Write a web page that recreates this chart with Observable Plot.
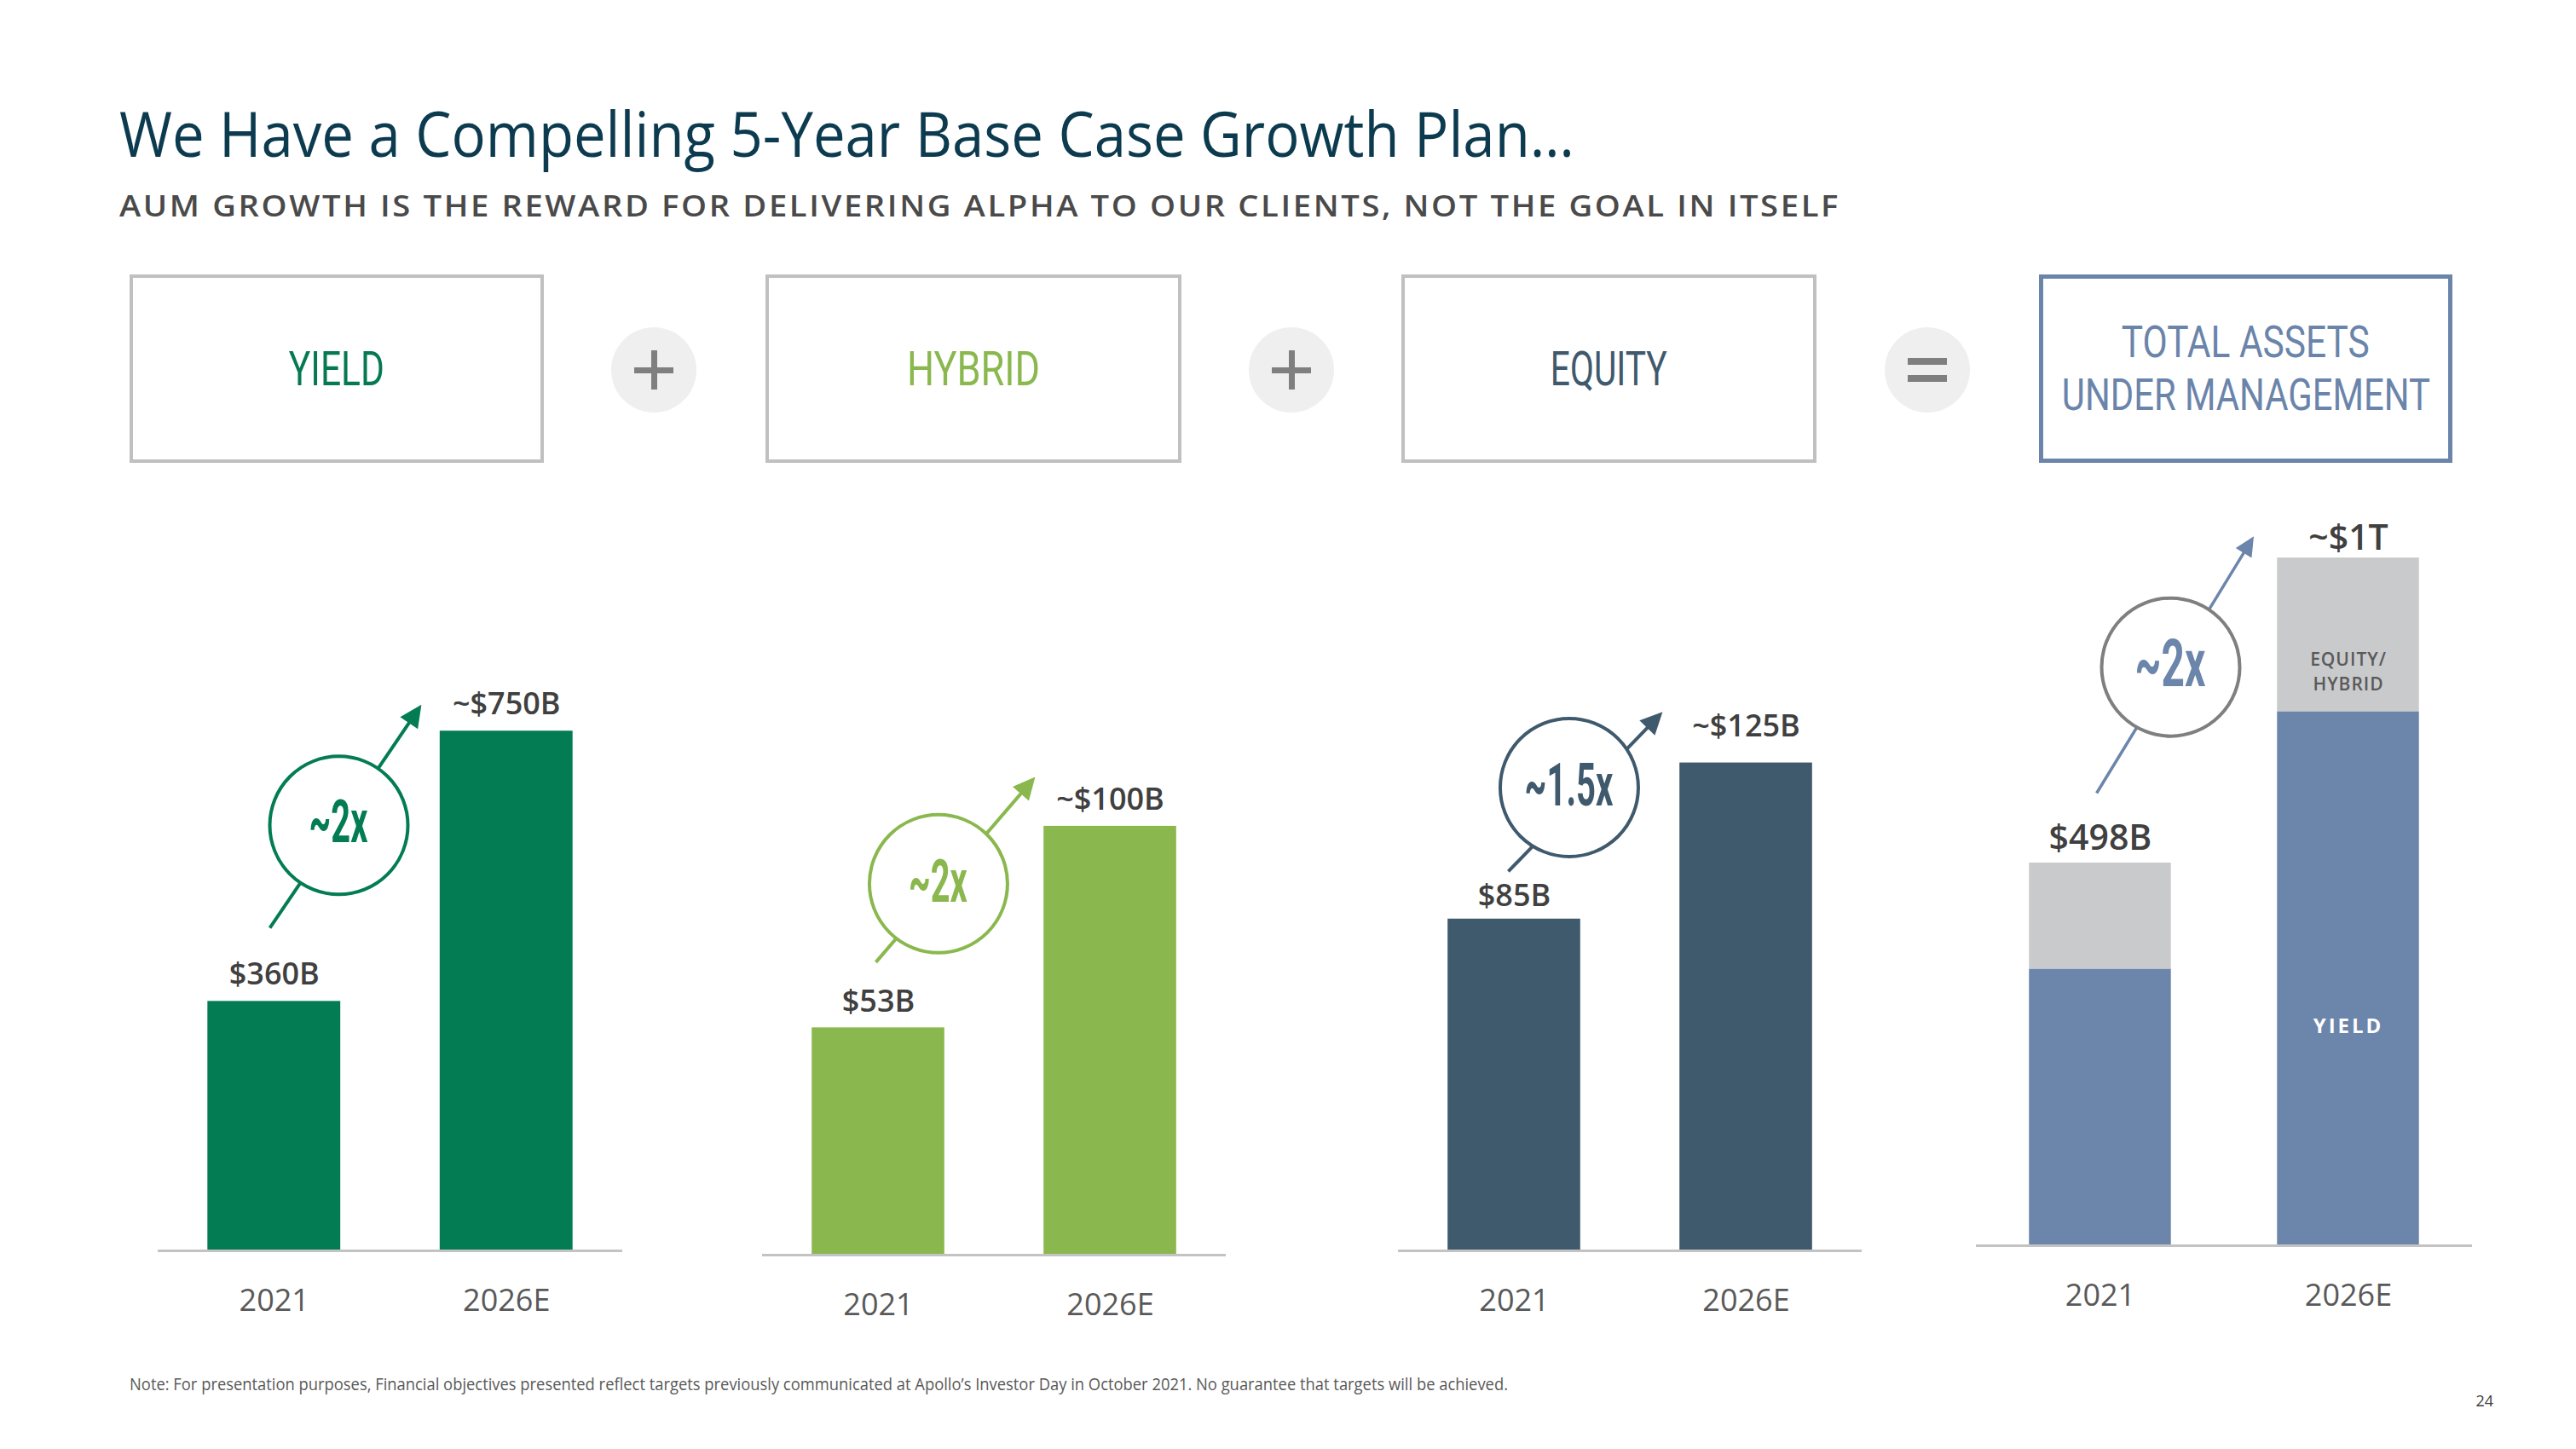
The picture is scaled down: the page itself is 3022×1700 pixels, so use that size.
<!DOCTYPE html>
<html>
<head>
<meta charset="utf-8">
<script src="https://cdn.jsdelivr.net/npm/d3@7"></script>
<script src="https://cdn.jsdelivr.net/npm/@observablehq/plot@0.6"></script>
<style>
  html, body { margin: 0; padding: 0; background: #fff; }
  #page { position: relative; width: 3022px; height: 1700px; overflow: hidden; background: #fff; font-family: "Open Sans", "Noto Sans", sans-serif; }
  .abs { position: absolute; white-space: nowrap; line-height: 1; transform-origin: 0 0; }
  .box { position: absolute; box-sizing: border-box; border: 4px solid #c0c0c0; display: flex; flex-direction: column; align-items: center; justify-content: center; background: #fff; }
  .boxlabel { font-family: Roboto, sans-serif; font-weight: 400; font-size: 56px; line-height: 66px; white-space: nowrap; display: inline-block; transform-origin: 50% 50%; }
  .boxlabel.two { font-size: 52px; line-height: 62px; }
  .op { position: absolute; width: 100px; height: 100px; border-radius: 50%; background: #efefef; top: 384px; }
  .opbar { position: absolute; background: #7f7f7f; }
  .panel { position: absolute; top: 560px; }
</style>
</head>
<body>
<div id="page">
  <div id="title" class="abs" style="left:140px; top:119px; font-size:74px; color:#0c3b4f;">We Have a Compelling 5-Year Base Case Growth Plan…</div>
  <div id="subtitle" class="abs" style="left:140px; top:223px; font-size:35px; font-weight:600; letter-spacing:2.4px; color:#4a4a4a;">AUM GROWTH IS THE REWARD FOR DELIVERING ALPHA TO OUR CLIENTS, NOT THE GOAL IN ITSELF</div>

  <div class="box" style="left:152px; top:322px; width:486px; height:221px;"><span class="boxlabel" data-w="112" style="color:#057a52;">YIELD</span></div>
  <div class="op" style="left:717px;"><div class="opbar" style="left:27px; top:47px; width:46px; height:7px;"></div><div class="opbar" style="left:47px; top:27px; width:7px; height:46px;"></div></div>
  <div class="box" style="left:898px; top:322px; width:488px; height:221px;"><span class="boxlabel" data-w="156" style="color:#8ab84e;">HYBRID</span></div>
  <div class="op" style="left:1465px;"><div class="opbar" style="left:27px; top:47px; width:46px; height:7px;"></div><div class="opbar" style="left:47px; top:27px; width:7px; height:46px;"></div></div>
  <div class="box" style="left:1644px; top:322px; width:487px; height:221px;"><span class="boxlabel" data-w="137" style="color:#3f596d;">EQUITY</span></div>
  <div class="op" style="left:2211px;"><div class="opbar" style="left:27px; top:36px; width:46px; height:8px;"></div><div class="opbar" style="left:27px; top:56px; width:46px; height:8px;"></div></div>
  <div class="box" style="left:2392px; top:322px; width:485px; height:221px; border:5px solid #6b84aa;">
    <span class="boxlabel two" data-w="291" style="color:#6b84aa;">TOTAL ASSETS</span>
    <span class="boxlabel two" data-w="432" style="color:#6b84aa;">UNDER MANAGEMENT</span>
  </div>

  <div id="note" class="abs" style="left:152px; top:1614px; font-size:20px; color:#595959;">Note: For presentation purposes, Financial objectives presented reflect targets previously communicated at Apollo’s Investor Day in October 2021. No guarantee that targets will be achieved.</div>
  <div class="abs" style="right:97px; top:1634px; font-size:18px; color:#404040;">24</div>
</div>

<script>
// ---------- DATA ----------
const years = ["2021", "2026E"];

const yieldAum = [360, 750];
const yieldLabels = ["$360B", "~$750B"];

const hybridAum = [53, 100];
const hybridLabels = ["$53B", "~$100B"];

const equityAum = [85, 125];
const equityLabels = ["$85B", "~$125B"];

// Total AUM stacked bar, segments as drawn
const totalYieldPart = [360, 695];
const totalOtherPart = [138, 200];
const totalLabels = ["$498B", "~$1T"];
const segmentNames = ["Yield", "Equity/Hybrid"];
const segmentTexts = ["YIELD", "EQUITY/\nHYBRID"];

const growthLabels = ["~2x", "~2x", "~1.5x", "~2x"];

// ---------- LAYOUT / STYLE ----------
const FONT = '"Open Sans", "Noto Sans", sans-serif';
const BAR_HALF = 0.286;
const SVG_H = 1040;

function rowsOf(vals, labels) {
  return years.map((y, i) => ({i, value: vals[i], label: labels[i]}));
}

const stackedRows = [];
years.forEach((y, i) => {
  stackedRows.push({i, seg: segmentNames[0], value: totalYieldPart[i]});
  stackedRows.push({i, seg: segmentNames[1], value: totalOtherPart[i]});
});
const totalRows = years.map((y, i) => ({i, value: totalYieldPart[i] + totalOtherPart[i], label: totalLabels[i]}));

const panels = [
  {left: 155, width: 605, mb: 133, yMax: 1091, fill: "#037c54", rows: rowsOf(yieldAum, yieldLabels),
   labelSize: 36, labelDy: [-20, -20], ratioColor: "#037c54", circleColor: "#037c54", arrowColor: "#037c54",
   ratioSize: 70, ratioWidth: 69, ratioDy: -5, arrowWidth: 4,
   anno: {cx: 0.278, cy: 614, ax1: -0.019, ay1: 466, ax2: 0.617, ay2: 780, ratio: growthLabels[0]}},
  {left: 864, width: 604, mb: 128, yMax: 177.3, fill: "#8ab84e", rows: rowsOf(hybridAum, hybridLabels),
   labelSize: 36, labelDy: [-19, -19], ratioColor: "#8ab84e", circleColor: "#8ab84e", arrowColor: "#8ab84e",
   ratioSize: 70, ratioWidth: 69, ratioDy: -4, arrowWidth: 4,
   anno: {cx: 0.259, cy: 86.6, ax1: -0.011, ay1: 68.3, ax2: 0.657, ay2: 110.3, ratio: growthLabels[1]}},
  {left: 1610, width: 604, mb: 133, yMax: 193.7, fill: "#3f596d", rows: rowsOf(equityAum, equityLabels),
   labelSize: 36, labelDy: [-15, -31], ratioColor: "#3f596d", circleColor: "#3f596d", arrowColor: "#3f596d",
   ratioSize: 70, ratioWidth: 104, ratioDy: -4, arrowWidth: 4,
   anno: {cx: 0.237, cy: 118.7, ax1: -0.026, ay1: 97.2, ax2: 0.619, ay2: 136.8, ratio: growthLabels[2]}},
  {left: 2288, width: 642, mb: 139, yMax: 977.2, fill: "seg", rows: stackedRows, totals: totalRows,
   labelSize: 41, labelDy: [-16, -10], ratioColor: "#6c85ab", circleColor: "#7f7f7f", arrowColor: "#6c85ab",
   ratioSize: 78, ratioWidth: 83, ratioDy: -5, arrowWidth: 3.5,
   anno: {cx: 0.2835, cy: 753, ax1: -0.015, ay1: 589, ax2: 0.606, ay2: 916.4, ratio: growthLabels[3]},
   stacked: true}
];

const page = document.getElementById("page");

panels.forEach((p, k) => {
  const labelRows = p.totals || p.rows;
  const marks = [
    Plot.rectY(p.rows, {x1: d => d.i - BAR_HALF, x2: d => d.i + BAR_HALF, y: "value", fill: p.fill}),
    Plot.ruleY([0], {stroke: "#c3c3c3", strokeWidth: 3}),
    // value labels (2021 and 2026E use their own vertical offsets)
    ...[0, 1].map(j => Plot.text(labelRows.filter(d => d.i === j), {x: "i", y: "value", text: "label",
      dy: p.labelDy[j], lineAnchor: "bottom", fontSize: p.labelSize, fontWeight: 600, fill: "#404040"})),
    Plot.link([p.anno], {x1: "ax1", y1: "ay1", x2: "ax2", y2: "ay2", stroke: p.arrowColor,
      strokeWidth: p.arrowWidth, markerEnd: "arrow"}),
    Plot.dot([p.anno], {x: "cx", y: "cy", r: 81, fill: "white", stroke: p.circleColor, strokeWidth: 4}),
    Plot.text([p.anno], {x: "cx", y: "cy", text: "ratio", fontSize: p.ratioSize, fontWeight: 700,
      fontFamily: "Roboto, sans-serif", fill: p.ratioColor, lineAnchor: "middle",
      ariaLabel: () => "ratio-mark"}),
    Plot.axisX([0, 1], {tickFormat: i => years[i], tickSize: 0, tickPadding: 45, fontSize: 36,
      color: "#595959", label: null})
  ];
  if (p.stacked) {
    const segLabels = [
      {i: 1, y: totalYieldPart[1] * 0.41, text: segmentTexts[0]},
    ];
    marks.push(Plot.text(segLabels, {x: "i", y: "y", text: "text", fontSize: 24, fontWeight: 700,
      fill: "white", lineAnchor: "middle", ariaLabel: () => "seg-yield"}));
    const segLabels2 = [
      {i: 1, y: totalYieldPart[1] + totalOtherPart[1] * 0.27, text: segmentTexts[1]}
    ];
    marks.push(Plot.text(segLabels2, {x: "i", y: "y", text: "text", fontSize: 21, fontWeight: 600,
      fill: "#595959", lineAnchor: "middle", lineHeight: 1.38, ariaLabel: () => "seg-other"}));
  }
  const svg = Plot.plot({
    width: p.width,
    height: SVG_H,
    marginLeft: 30, marginRight: 30, marginTop: 20, marginBottom: p.mb,
    x: {type: "linear", domain: [-0.5, 1.5], axis: null},
    y: {domain: [0, p.yMax], axis: null},
    color: {domain: segmentNames, range: ["#6c85ab", "#c9cacc"]},
    style: {background: "transparent", maxWidth: "none", overflow: "visible", fontFamily: FONT},
    marks
  });
  const holder = document.createElement("div");
  holder.className = "panel";
  holder.style.left = p.left + "px";
  holder.appendChild(svg);
  page.appendChild(holder);

  // filled triangular arrowheads
  svg.querySelectorAll("marker").forEach(m => {
    const c = m.getAttribute("stroke") || p.arrowColor;
    m.setAttribute("viewBox", "-7 -5 10 10");
    m.setAttribute("fill", c);
    m.setAttribute("stroke", "none");
    const path = m.querySelector("path");
    if (path) path.setAttribute("d", "M3,0L-6.75,-4.7L-6.75,4.7Z");
  });
  svg.querySelectorAll('[aria-label="seg-yield"]').forEach(t => t.style.letterSpacing = "3px");
  svg.querySelectorAll('[aria-label="seg-other"]').forEach(t => t.style.letterSpacing = "1px");
  p.svg = svg;
});

// condensed ratio numbers, placed at the circle centre through the plot's own scales
function condenseRatios() {
  panels.forEach(p => {
    const sx = p.svg.scale("x"), sy = p.svg.scale("y");
    const px = sx.apply(p.anno.cx), py = sy.apply(p.anno.cy) + p.ratioDy;
    p.svg.querySelectorAll('text[aria-label="ratio-mark"]').forEach(t => {
      const g = t.parentNode;
      if (g && g.removeAttribute) g.removeAttribute("transform");
      t.setAttribute("x", 0);
      t.setAttribute("y", 0);
      t.setAttribute("dy", "0.36em");
      t.setAttribute("text-anchor", "middle");
      t.setAttribute("transform", `translate(${px},${py})`);
      const w = t.getBBox().width;
      const s = w > 0 ? p.ratioWidth / w : 0.6;
      t.setAttribute("transform", `translate(${px},${py}) scale(${s},1)`);
    });
  });
}

// fit texts horizontally to the reference widths
function fitAll() {
  const fit = (el, target) => {
    el.style.transform = "none";
    const w = el.getBoundingClientRect().width;
    if (w > 0) el.style.transform = `scaleX(${target / w})`;
  };
  fit(document.getElementById("title"), 1707);
  fit(document.getElementById("subtitle"), 2019);
  fit(document.getElementById("note"), 1617);
  document.querySelectorAll(".boxlabel").forEach(el => fit(el, +el.dataset.w));
  condenseRatios();
}
fitAll();
if (document.fonts && document.fonts.ready) document.fonts.ready.then(fitAll);
</script>
</body>
</html>
